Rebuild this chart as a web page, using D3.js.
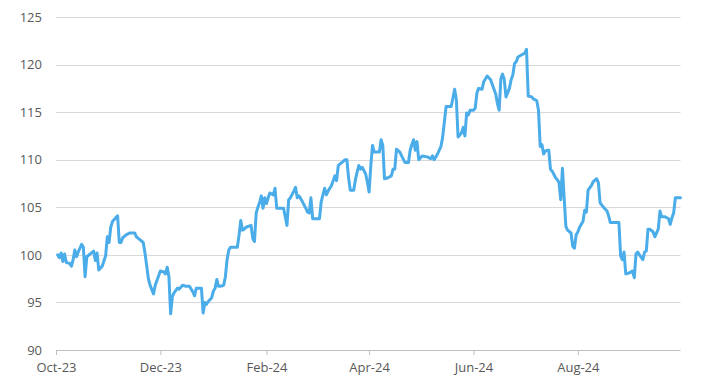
<!DOCTYPE html>
<html>
<head>
<meta charset="utf-8">
<script src="https://cdn.jsdelivr.net/npm/d3@7"></script>
<style>
  html, body { margin: 0; padding: 0; background: #ffffff; }
  svg { display: block; }
  text { font-family: "Open Sans", "Liberation Sans", Arial, sans-serif; }
</style>
</head>
<body>
<svg id="chart" width="714" height="390"></svg>
<script>
// ---- DATA ----
const dates = [
  "2023-10-02","2023-10-03","2023-10-04","2023-10-05","2023-10-06","2023-10-07","2023-10-09","2023-10-10","2023-10-11","2023-10-12",
  "2023-10-13","2023-10-14","2023-10-16","2023-10-17","2023-10-18","2023-10-19","2023-10-21","2023-10-23","2023-10-24","2023-10-25",
  "2023-10-26","2023-10-28","2023-10-30","2023-10-31","2023-11-01","2023-11-02","2023-11-03","2023-11-06","2023-11-07","2023-11-08",
  "2023-11-09","2023-11-11","2023-11-13","2023-11-16","2023-11-17","2023-11-19","2023-11-21","2023-11-22","2023-11-24","2023-11-25",
  "2023-11-27","2023-11-28","2023-11-30","2023-12-01","2023-12-03","2023-12-04","2023-12-05","2023-12-06","2023-12-07","2023-12-08",
  "2023-12-09","2023-12-11","2023-12-12","2023-12-14","2023-12-16","2023-12-18","2023-12-20","2023-12-21","2023-12-22","2023-12-25",
  "2023-12-26","2023-12-27","2023-12-28","2023-12-29","2023-12-31","2024-01-01","2024-01-02","2024-01-03","2024-01-04","2024-01-05",
  "2024-01-07","2024-01-08","2024-01-09","2024-01-10","2024-01-11","2024-01-14","2024-01-15","2024-01-16","2024-01-17","2024-01-18",
  "2024-01-19","2024-01-20","2024-01-23","2024-01-24","2024-01-25","2024-01-26","2024-01-27","2024-01-28","2024-01-29","2024-01-30",
  "2024-01-31","2024-02-01","2024-02-02","2024-02-03","2024-02-05","2024-02-06","2024-02-07","2024-02-11","2024-02-12","2024-02-13",
  "2024-02-14","2024-02-15","2024-02-17","2024-02-18","2024-02-19","2024-02-20","2024-02-22","2024-02-24","2024-02-25","2024-02-26",
  "2024-02-27","2024-02-28","2024-03-03","2024-03-04","2024-03-06","2024-03-07","2024-03-08","2024-03-10","2024-03-11","2024-03-12",
  "2024-03-13","2024-03-14","2024-03-16","2024-03-18","2024-03-19","2024-03-20","2024-03-21","2024-03-23","2024-03-24","2024-03-25",
  "2024-03-26","2024-03-27","2024-03-28","2024-03-30","2024-03-31","2024-04-01","2024-04-02","2024-04-03","2024-04-04","2024-04-07",
  "2024-04-08","2024-04-09","2024-04-10","2024-04-12","2024-04-14","2024-04-15","2024-04-16","2024-04-17","2024-04-19","2024-04-20",
  "2024-04-22","2024-04-24","2024-04-25","2024-04-26","2024-04-27","2024-04-28","2024-04-29","2024-04-30","2024-05-02","2024-05-05",
  "2024-05-07","2024-05-08","2024-05-09","2024-05-11","2024-05-13","2024-05-14","2024-05-16","2024-05-17","2024-05-19","2024-05-21",
  "2024-05-22","2024-05-23","2024-05-25","2024-05-26","2024-05-27","2024-05-28","2024-05-29","2024-05-30","2024-06-01","2024-06-02",
  "2024-06-03","2024-06-04","2024-06-06","2024-06-07","2024-06-09","2024-06-11","2024-06-12","2024-06-14","2024-06-15","2024-06-16",
  "2024-06-17","2024-06-18","2024-06-19","2024-06-20","2024-06-22","2024-06-23","2024-06-24","2024-06-25","2024-06-26","2024-06-27",
  "2024-06-29","2024-07-01","2024-07-02","2024-07-03","2024-07-05","2024-07-06","2024-07-08","2024-07-09","2024-07-10","2024-07-11",
  "2024-07-12","2024-07-13","2024-07-14","2024-07-15","2024-07-16","2024-07-17","2024-07-19","2024-07-20","2024-07-21","2024-07-22",
  "2024-07-23","2024-07-24","2024-07-25","2024-07-26","2024-07-28","2024-07-29","2024-07-30","2024-07-31","2024-08-01","2024-08-02",
  "2024-08-04","2024-08-05","2024-08-06","2024-08-07","2024-08-09","2024-08-10","2024-08-12","2024-08-13","2024-08-14","2024-08-16",
  "2024-08-18","2024-08-19","2024-08-20","2024-08-22","2024-08-24","2024-08-25","2024-08-26","2024-08-27","2024-08-28","2024-08-29",
  "2024-08-31","2024-09-02","2024-09-03","2024-09-04","2024-09-05","2024-09-06","2024-09-08","2024-09-09","2024-09-10","2024-09-11",
  "2024-09-12","2024-09-14","2024-09-15","2024-09-17","2024-09-18","2024-09-19","2024-09-21","2024-09-23","2024-09-24","2024-09-25",
  "2024-09-26","2024-09-27","2024-09-30"
];
const values = [
  100.0, 99.7,100.2, 99.3,100.1, 99.2, 99.1, 98.8, 99.5,100.5,
   99.8,100.3,101.1,100.8, 97.7, 99.8,100.1,100.4, 99.4,100.2,
   98.4, 98.8, 99.9,101.9,101.3,102.9,103.5,104.1,101.3,101.3,
  101.8,102.1,102.3,102.3,101.9,101.6,101.3,100.2, 97.5, 96.8,
   95.9, 96.8, 97.8, 98.3, 98.2, 98.0, 98.7, 97.7, 93.8, 95.6,
   96.0, 96.5, 96.4, 96.8, 96.7, 96.7, 96.1, 95.7, 96.5, 96.5,
   93.9, 95.0, 94.8, 95.1, 95.5, 96.2, 96.5, 97.4, 96.7, 96.7,
   96.8, 97.7, 99.5,100.5,100.8,100.8,100.8,102.1,103.6,102.6,
  102.7,102.9,103.1,101.7,101.4,104.4,105.0,105.5,106.2,104.9,
  106.0,105.4,106.0,106.5,106.3,107.0,104.9,104.9,104.0,103.1,
  105.8,106.0,106.7,107.1,106.0,106.2,105.6,104.9,104.5,104.4,
  106.0,103.8,103.8,105.6,107.0,106.3,106.7,107.3,107.8,108.3,
  107.8,109.4,109.7,110.0,110.0,108.1,106.8,106.8,107.9,108.7,
  109.4,109.0,109.2,108.5,107.6,106.6,109.4,111.5,110.8,110.8,
  112.1,111.5,108.0,108.1,108.3,109.0,109.0,111.1,110.8,110.4,
  109.7,109.7,111.0,111.6,112.1,111.0,111.9,110.0,110.4,110.3,
  110.1,110.4,110.0,110.6,111.4,112.4,115.6,115.6,115.6,117.4,
  116.3,112.4,112.8,113.4,112.5,114.9,114.7,115.2,115.2,115.4,
  117.0,117.5,117.4,118.2,118.8,118.4,117.9,116.9,115.9,115.2,
  118.5,119.0,118.4,116.6,117.5,118.4,118.9,120.1,120.3,120.8,
  121.0,121.2,121.6,116.7,116.6,116.4,116.2,115.2,111.4,111.6,
  110.6,110.9,111.0,111.0,109.0,108.8,108.1,107.9,107.6,105.8,
  109.1,106.0,103.0,102.6,102.3,100.9,100.7,102.1,102.4,102.9,
  103.5,104.7,104.5,106.8,107.3,107.7,108.0,107.6,105.5,105.0,
  104.6,104.1,103.4,103.4,103.4,103.4, 99.9, 99.5,100.3, 98.0,
   98.1, 98.3, 97.6,100.1,100.3,100.0, 99.5,100.3,100.4,102.7,
  102.7,102.4,101.9,102.7,104.6,104.0,104.0,103.8,103.2,103.9,
  104.4,106.0,106.0
];
const xTickDates  = ["2023-10-01","2023-12-01","2024-02-01","2024-04-01","2024-06-01","2024-08-01"];
const xTickLabels = ["Oct-23","Dec-23","Feb-24","Apr-24","Jun-24","Aug-24"];
const yTicks = [90, 95, 100, 105, 110, 115, 120, 125];
const xDomain = ["2023-10-01", "2024-09-30"];
const yDomain = [90, 125];

// ---- CHART ----
(function () {
  const parse = d3.utcParse("%Y-%m-%d");
  const data = dates.map((d, i) => ({ date: parse(d), value: values[i] }));

  const svg = d3.select("#chart");
  const mLeft = 56, mRight = 680.5, mTop = 17, mBottom = 350;

  const x = d3.scaleUtc().domain(xDomain.map(parse)).range([mLeft, mRight]);
  const y = d3.scaleLinear().domain(yDomain).range([mBottom, mTop]);

  // gridlines
  svg.append("g")
    .selectAll("line")
    .data(yTicks.filter(t => t !== yDomain[0]))
    .join("line")
    .attr("x1", mLeft).attr("x2", mRight)
    .attr("y1", d => Math.round(y(d)) + 0.5).attr("y2", d => Math.round(y(d)) + 0.5)
    .attr("stroke", "#d9d9d9").attr("stroke-width", 1.2);

  // y axis labels
  const yAxis = d3.axisLeft(y).tickValues(yTicks).tickSize(0).tickPadding(0).tickFormat(d3.format("d"));
  const gy = svg.append("g").attr("transform", `translate(${mLeft - 14},0)`).call(yAxis);
  gy.select(".domain").remove();
  gy.selectAll("text").attr("fill", "#595959").style("font-size", "13px");

  // x axis
  const tickMap = new Map(xTickDates.map((d, i) => [+parse(d), xTickLabels[i]]));
  const xAxis = d3.axisBottom(x)
    .tickValues(xTickDates.map(parse))
    .tickSize(5).tickPadding(8)
    .tickFormat(d => tickMap.get(+d));
  const gx = svg.append("g").attr("transform", `translate(0,${mBottom})`).call(xAxis);
  gx.select(".domain").attr("stroke", "#bfbfbf").attr("d", `M${mLeft},0.5H${mRight}`);
  gx.selectAll(".tick line").attr("stroke", "#bfbfbf");
  gx.selectAll("text").attr("fill", "#595959").style("font-size", "13px");

  // line
  const line = d3.line().x(d => x(d.date)).y(d => y(d.value));
  svg.append("path")
    .datum(data)
    .attr("fill", "none")
    .attr("stroke", "#4aace8")
    .attr("stroke-width", 3)
    .attr("stroke-linejoin", "round")
    .attr("stroke-linecap", "round")
    .attr("d", line);
})();
</script>
</body>
</html>
